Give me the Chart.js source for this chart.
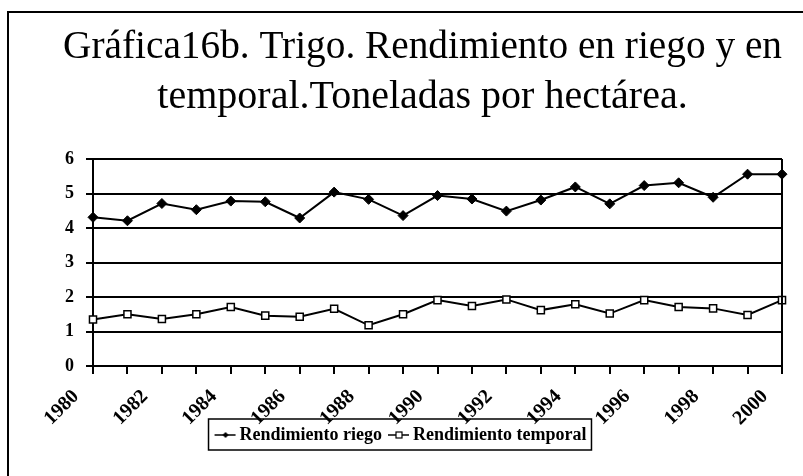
<!DOCTYPE html>
<html lang="es">
<head>
<meta charset="utf-8">
<title>Gráfica 16b</title>
<script src="https://cdn.jsdelivr.net/npm/chart.js@4.4.1/dist/chart.umd.min.js"></script>
<style>
    html, body { margin: 0; padding: 0; background: #fff; }
    #grafica { display: block; }
</style>
</head>
<body>
<canvas id="grafica" width="803" height="476"></canvas>
<script>
"use strict";

const years = ["1980", "1981", "1982", "1983", "1984", "1985", "1986", "1987", "1988", "1989",
    "1990", "1991", "1992", "1993", "1994", "1995", "1996", "1997", "1998", "1999", "2000"];
const riego = [4.31, 4.21, 4.71, 4.53, 4.78, 4.76, 4.29, 5.04, 4.83, 4.36,
    4.94, 4.84, 4.49, 4.81, 5.19, 4.70, 5.23, 5.31, 4.89, 5.56, 5.56];
const temporal = [1.35, 1.50, 1.36, 1.50, 1.71, 1.46, 1.43, 1.66, 1.18, 1.50,
    1.91, 1.74, 1.93, 1.62, 1.79, 1.52, 1.91, 1.71, 1.67, 1.48, 1.91];
const seriesNames = ["Rendimiento riego", "Rendimiento temporal"];
const titleLines = ["Gráfica16b. Trigo. Rendimiento en riego y en", "temporal.Toneladas por hectárea."];
const yTicks = [0, 1, 2, 3, 4, 5, 6];

(function() {
    const serif = "'Liberation Serif', 'Times New Roman', serif";

    // line + marker picture for the legend, drawn off-centre so it sits close to the text
    function legendSymbol(kind) {
        let c = document.createElement("canvas");
        c.width = 30;
        c.height = 10;
        let g = c.getContext("2d");
        g.strokeStyle = "#000";
        g.lineWidth = 1.5;
        g.beginPath();
        g.moveTo(7, 5);
        g.lineTo(28, 5);
        g.stroke();
        if (kind === "diamond") {
            g.fillStyle = "#000";
            g.beginPath();
            g.moveTo(18, 2);
            g.lineTo(21, 5);
            g.lineTo(18, 8);
            g.lineTo(15, 5);
            g.closePath();
            g.fill();
        } else {
            g.fillStyle = "#fff";
            g.fillRect(15, 2, 6, 6);
            g.lineWidth = 1.2;
            g.strokeRect(15, 2, 6, 6);
        }
        return c;
    }

    const frame = {
        id: "frame",
        afterLayout(chart) {
            // the legend sits left of the title and tucks under the year labels
            let lg = chart.legend;
            lg.left -= 22;
            lg.right -= 22;
            lg.top -= 15;
            lg.bottom -= 15;
        },
        afterDraw(chart) {
            let ctx = chart.ctx;
            let a = chart.chartArea;
            ctx.save();
            ctx.strokeStyle = "#000";
            ctx.lineWidth = 2;
            ctx.beginPath();
            ctx.moveTo(8, 476);
            ctx.lineTo(8, 12);
            ctx.lineTo(803, 12);
            ctx.moveTo(a.right, a.top);
            ctx.lineTo(a.right, a.bottom + 8);
            ctx.stroke();

            let boxes = chart.legend.legendHitBoxes;
            if (boxes && boxes.length) {
                let l = Math.min(...boxes.map(b => b.left)) - 6;
                let r = Math.max(...boxes.map(b => b.left + b.width)) + 5;
                let t = Math.min(...boxes.map(b => b.top)) - 7;
                let btm = Math.max(...boxes.map(b => b.top + b.height)) + 6;
                ctx.lineWidth = 1.5;
                ctx.strokeRect(l, t, r - l, btm - t);
            }
            ctx.restore();
        }
    };

    function Start() {
        let ctx = document.getElementById("grafica").getContext("2d");
        let symbols = [legendSymbol("diamond"), legendSymbol("square")];

        new Chart(ctx, {
            type: "line",
            data: {
                labels: years,
                datasets: [{
                    label: seriesNames[0],
                    data: riego,
                    borderColor: "#000",
                    borderWidth: 2,
                    pointStyle: "rectRot",
                    pointRadius: 5,
                    pointBackgroundColor: "#000",
                    pointBorderColor: "#000",
                    pointBorderWidth: 1,
                    tension: 0,
                }, {
                    label: seriesNames[1],
                    data: temporal,
                    borderColor: "#000",
                    borderWidth: 2,
                    pointStyle: "rect",
                    pointRadius: 5,
                    pointBackgroundColor: "#fff",
                    pointBorderColor: "#000",
                    pointBorderWidth: 1.5,
                    tension: 0,
                }],
            },
            options: {
                responsive: false,
                animation: false,
                layout: {
                    padding: { left: 63, right: 21, top: 16, bottom: 7 },
                },
                plugins: {
                    title: {
                        display: true,
                        text: titleLines,
                        color: "#000",
                        font: { family: serif, size: 40, weight: "normal", lineHeight: 1.25 },
                        padding: { top: 6, bottom: 37 },
                    },
                    legend: {
                        position: "bottom",
                        labels: {
                            color: "#000",
                            font: { family: serif, size: 18, weight: "bold" },
                            usePointStyle: true,
                            pointStyleWidth: 16,
                            padding: 6,
                            generateLabels(chart) {
                                let items = Chart.defaults.plugins.legend.labels.generateLabels(chart);
                                items.forEach((it, i) => { it.pointStyle = symbols[i]; });
                                return items;
                            },
                        },
                    },
                    tooltip: { enabled: false },
                },
                scales: {
                    x: {
                        offset: false,
                        afterFit(scale) {
                            scale.paddingLeft = 0;
                            scale.paddingRight = 0;
                            scale.height = 69;
                        },
                        border: { display: true, color: "#000", width: 2 },
                        grid: { drawOnChartArea: false, drawTicks: true, tickLength: 8, color: "#000", lineWidth: 2 },
                        ticks: {
                            autoSkip: false,
                            maxRotation: 45,
                            minRotation: 45,
                            padding: 11,
                            labelOffset: -17,
                            color: "#000",
                            font: { family: serif, size: 20, weight: "bold" },
                            callback: function(val, i) {
                                return i % 2 === 0 ? years[i] : "";
                            },
                        },
                    },
                    y: {
                        min: yTicks[0],
                        max: yTicks[yTicks.length - 1],
                        afterFit(scale) { scale.width = 30; },
                        border: { display: true, color: "#000", width: 2 },
                        grid: { color: "#000", lineWidth: 2, tickLength: 7 },
                        ticks: {
                            stepSize: 1,
                            padding: 12,
                            color: "#000",
                            font: { family: serif, size: 18, weight: "bold" },
                        },
                    },
                },
            },
            plugins: [frame],
        });
    }

    window.addEventListener("load", Start);
})();
</script>
</body>
</html>
